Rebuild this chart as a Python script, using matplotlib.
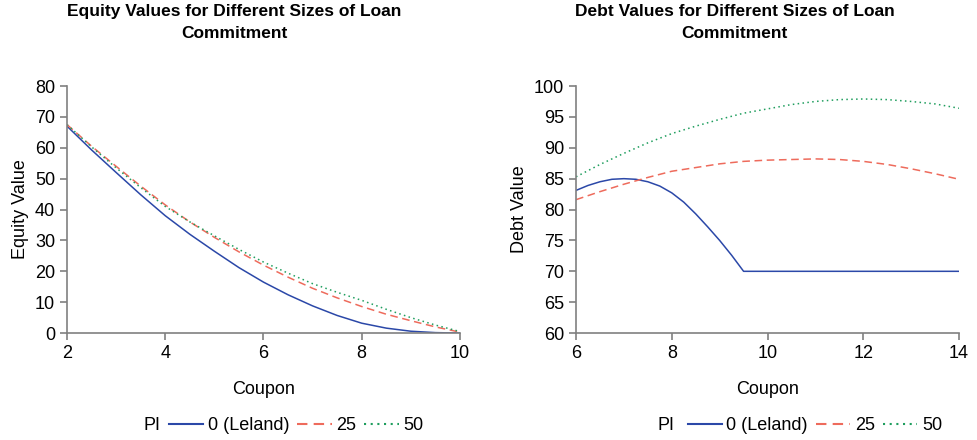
import numpy as np
import matplotlib.pyplot as plt
from matplotlib.lines import Line2D

plt.rcParams['font.family'] = ['Liberation Sans', 'DejaVu Sans']

# equity panel (coupon 2..10)
eq_coupon = [2, 2.5, 3, 3.5, 4, 4.5, 5, 5.5, 6, 6.5, 7, 7.5, 8, 8.5, 9, 9.5, 10]
eq_leland = [67, 59.3, 52, 44.8, 38, 32, 26.5, 21.2, 16.5, 12.4, 8.8, 5.7, 3.2, 1.6, 0.6, 0.15, 0]
eq_pi25 = [67.5, 60.5, 54, 47.6, 41.5, 36, 31, 26.3, 22, 18.1, 14.5, 11.4, 8.6, 6.1, 4, 2, 0.3]
eq_pi50 = [67.5, 60.3, 53.5, 47.1, 41, 36, 31.5, 27.1, 23, 19.4, 16, 13.2, 10.6, 7.7, 5, 2.6, 0.5]

# debt panel (coupon 6..14)
debt_coupon_l = [6, 6.25, 6.5, 6.75, 7, 7.25, 7.5, 7.75, 8, 8.25, 8.5, 8.75, 9, 9.25, 9.5, 10, 11, 12, 13, 14]
debt_leland = [83.1, 83.9, 84.5, 84.9, 85.0, 84.9, 84.5, 83.8, 82.7, 81.2, 79.3, 77.2, 75.0, 72.6, 70, 70, 70, 70, 70, 70]
debt_coupon = [6, 6.5, 7, 7.5, 8, 8.5, 9, 9.5, 10, 10.5, 11, 11.5, 12, 12.5, 13, 13.5, 14]
debt_pi25 = [81.6, 82.9, 84.1, 85.2, 86.2, 86.8, 87.4, 87.8, 88, 88.1, 88.2, 88.1, 87.8, 87.3, 86.6, 85.8, 84.9]
debt_pi50 = [85.3, 87.3, 89.1, 90.8, 92.3, 93.5, 94.6, 95.6, 96.3, 97, 97.5, 97.8, 97.9, 97.8, 97.5, 97.1, 96.4]

labels = ['0 (Leland)', '25', '50']
colors = ['#2b48a8', '#ee6b5c', '#1f9e5e']
styles = ['-', (0, (5, 3)), (0, (1, 2.2))]

fig = plt.figure(figsize=(9.77, 4.4), dpi=100)
ax1 = fig.add_axes([0.0686, 0.243, 0.4022, 0.5615])
ax2 = fig.add_axes([0.5896, 0.243, 0.392, 0.5615])


def style_axis(ax, xlim, ylim, yticks, xticks, ylabel):
    ax.set_xlim(*xlim)
    ax.set_ylim(*ylim)
    ax.set_xticks(xticks)
    ax.set_yticks(yticks)
    for s in ['top', 'right']:
        ax.spines[s].set_visible(False)
    for s in ['left', 'bottom']:
        ax.spines[s].set_color('#808080')
        ax.spines[s].set_linewidth(1.2)
    ax.tick_params(axis='both', colors='#808080', labelcolor='black',
                   labelsize=13, length=5, width=1.2)
    ax.set_xlabel('Coupon', fontsize=13, labelpad=14)
    ax.set_ylabel(ylabel, fontsize=13, labelpad=4)


for xs, ys, c, ls in zip([eq_coupon] * 3, [eq_leland, eq_pi25, eq_pi50], colors, styles):
    ax1.plot(xs, ys, color=c, linestyle=ls, linewidth=1.1)
for xs, ys, c, ls in zip([debt_coupon_l, debt_coupon, debt_coupon],
                         [debt_leland, debt_pi25, debt_pi50], colors, styles):
    ax2.plot(xs, ys, color=c, linestyle=ls, linewidth=1.1)

style_axis(ax1, (2, 10), (0, 80), range(0, 81, 10), [2, 4, 6, 8, 10], 'Equity Value')
style_axis(ax2, (6, 14), (60, 100), range(60, 101, 5), [6, 8, 10, 12, 14], 'Debt Value')

fig.text(0.240, 0.99, 'Equity Values for Different Sizes of Loan\nCommitment',
         ha='center', va='top', fontsize=12.5, fontweight='bold', linespacing=1.55)
fig.text(0.752, 0.99, 'Debt Values for Different Sizes of Loan\nCommitment',
         ha='center', va='top', fontsize=12.5, fontweight='bold', linespacing=1.55)

handles = [Line2D([], [], color=c, linestyle=ls, linewidth=1.5) for c, ls in zip(colors, styles)]
for xc, tx in [(0.303, 0.156), (0.834, 0.682)]:
    fig.legend(handles, labels, loc='center', bbox_to_anchor=(xc, 0.033), ncol=3,
               frameon=False, fontsize=13, handlelength=1.9, handletextpad=0.25,
               columnspacing=0.45)
    fig.text(tx, 0.033, 'PI', ha='center', va='center', fontsize=13)

fig.savefig('out.png', dpi=100)
